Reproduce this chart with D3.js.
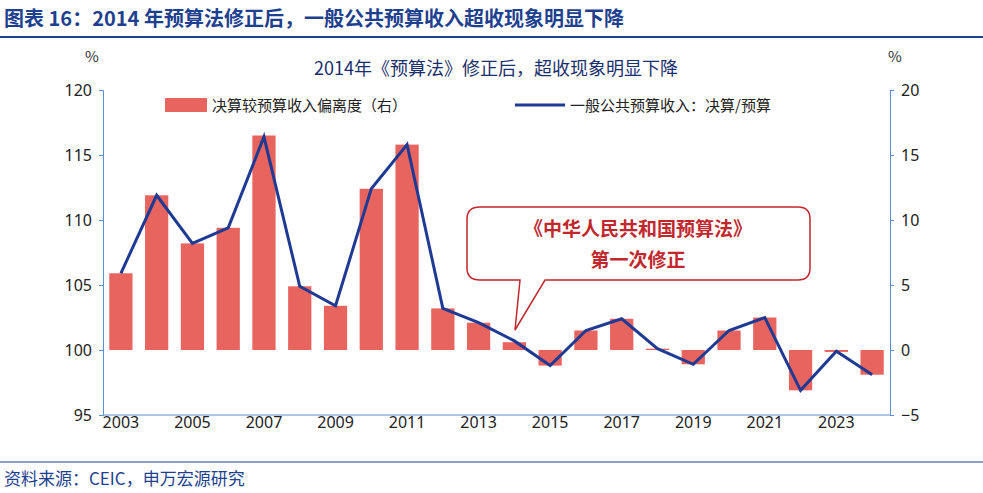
<!DOCTYPE html>
<html><head><meta charset="utf-8">
<script src="https://cdn.jsdelivr.net/npm/d3@7"></script>
<style>body{margin:0;background:#fff;font-family:"Noto Sans CJK SC","Noto Sans",sans-serif}</style>
</head><body><svg id="c" width="983" height="493"></svg>
<script>
const years=[2003,2004,2005,2006,2007,2008,2009,2010,2011,2012,2013,2014,2015,2016,2017,2018,2019,2020,2021,2022,2023,2024];
const deviation=[5.9,11.9,8.2,9.4,16.5,4.9,3.4,12.4,15.8,3.2,2.1,0.6,-1.2,1.5,2.4,0.1,-1.1,1.5,2.5,-3.1,-0.15,-1.9];
const ratio=[105.9,111.9,108.2,109.4,116.4,104.9,103.4,112.4,115.8,103.2,102.1,100.7,98.8,101.5,102.4,100.1,98.9,101.5,102.5,96.9,99.9,98.1];
const leftTicks=[95,100,105,110,115,120];
const rightTicks=[-5,0,5,10,15,20];
const xTickYears=[2003,2005,2007,2009,2011,2013,2015,2017,2019,2021,2023];

const svg=d3.select("#c");
const L=103,R=890,T=90,B=415;
const x=d3.scaleBand().domain(years).range([L,R]).paddingInner(0.35).paddingOuter(0.175);
const yl=d3.scaleLinear().domain([95,120]).range([B,T]);
const yr=d3.scaleLinear().domain([-5,20]).range([B,T]);
const navy="#1f3a93";

svg.append("text").attr("x",4).attr("y",26).attr("font-size",20).attr("font-weight",700).attr("fill","#1f3f8f")
 .text("图表 16：2014 年预算法修正后，一般公共预算收入超收现象明显下降");
svg.append("line").attr("x1",0).attr("x2",983).attr("y1",37).attr("y2",37).attr("stroke","#1f3f8f").attr("stroke-width",2);
svg.append("line").attr("x1",0).attr("x2",983).attr("y1",462).attr("y2",462).attr("stroke","#1f3f8f").attr("stroke-width",1);
svg.append("text").attr("x",4).attr("y",485).attr("font-size",17).attr("fill","#1f3f8f").text("资料来源：CEIC，申万宏源研究");

svg.append("text").attr("x",496).attr("y",75).attr("text-anchor","middle").attr("font-size",18).attr("fill","#1a2f6b").text("2014年《预算法》修正后，超收现象明显下降");
svg.append("text").attr("x",92).attr("y",62).attr("text-anchor","middle").attr("font-size",15).attr("fill","#333").text("%");
svg.append("text").attr("x",895).attr("y",62).attr("text-anchor","middle").attr("font-size",15).attr("fill","#333").text("%");

svg.selectAll("rect.b").data(years).join("rect").attr("class","b")
 .attr("x",d=>x(d)).attr("width",x.bandwidth())
 .attr("y",(d,i)=>yr(Math.max(0,deviation[i]))).attr("height",(d,i)=>Math.abs(yr(deviation[i])-yr(0)))
 .attr("fill","#e8645f");
svg.append("path").datum(ratio).attr("fill","none").attr("stroke",navy).attr("stroke-width",3)
 .attr("d",d3.line().x((d,i)=>x(years[i])+x.bandwidth()/2).y(d=>yl(d)));

const ax=svg.append("g").attr("transform",`translate(${L},0)`).call(d3.axisLeft(yl).tickValues(leftTicks).tickSize(4));
const ar=svg.append("g").attr("transform",`translate(${R},0)`).call(d3.axisRight(yr).tickValues(rightTicks).tickSize(4));
const xa=svg.append("g").attr("transform",`translate(0,${B})`).call(d3.axisBottom(x).tickValues(xTickYears).tickSize(0).tickFormat(d3.format("d")));
[ax,ar,xa].forEach(g=>{g.selectAll("path,line").attr("stroke","#5b8fd6");g.selectAll("text").attr("font-size",16).attr("fill","#222").attr("font-family","Noto Sans,sans-serif");});
ax.selectAll("text").attr("dx",-4);ar.selectAll("text").attr("dx",4);xa.selectAll("text").attr("dy",10);
xa.select("path").attr("d",`M${L},0H${R}`);

svg.append("rect").attr("x",165).attr("y",98).attr("width",42).attr("height",14).attr("fill","#e8645f");
svg.append("text").attr("x",212).attr("y",111).attr("font-size",15).attr("fill","#222").text("决算较预算收入偏离度（右）");
svg.append("line").attr("x1",515).attr("x2",565).attr("y1",105).attr("y2",105).attr("stroke",navy).attr("stroke-width",3);
svg.append("text").attr("x",570).attr("y",111).attr("font-size",15).attr("fill","#222").text("一般公共预算收入：决算/预算");

svg.append("path").attr("d","M480,207H798Q810,207 810,219V268Q810,280 798,280H545L515,330L520,280H480Q467,280 467,268V219Q467,207 480,207Z")
 .attr("fill","#fff").attr("stroke","#c0282d").attr("stroke-width",1.5);
svg.append("text").attr("x",638).attr("y",236).attr("text-anchor","middle").attr("font-size",19).attr("font-weight",700).attr("fill","#c0282d").text("《中华人民共和国预算法》");
svg.append("text").attr("x",638).attr("y",267).attr("text-anchor","middle").attr("font-size",19).attr("font-weight",700).attr("fill","#c0282d").text("第一次修正");
</script></body></html>
